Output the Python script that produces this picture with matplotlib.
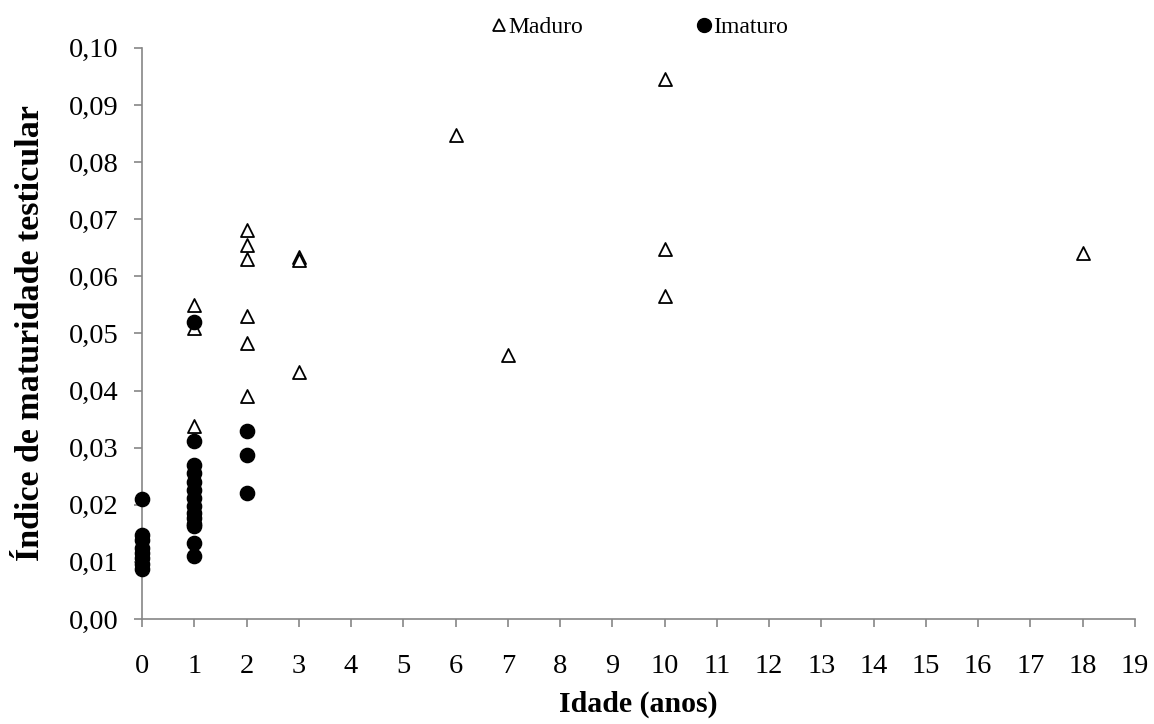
import matplotlib
matplotlib.use("Agg")
import matplotlib.pyplot as plt
from matplotlib.lines import Line2D
from matplotlib.ticker import FuncFormatter, MultipleLocator

plt.rcParams['font.family'] = ['Liberation Serif', 'DejaVu Serif']

# Mature individuals (age in years, testicular maturity index)
maduro_idade = [1, 1, 1, 2, 2, 2, 2, 2, 2, 3, 3, 3, 6, 7, 10, 10, 10, 18]
maduro_indice = [0.0550, 0.0509, 0.0338, 0.0681, 0.0654, 0.0630, 0.0531, 0.0484,
                 0.0391, 0.0634, 0.0628, 0.0433, 0.0847, 0.0462, 0.0946, 0.0647,
                 0.0566, 0.0640]

# Immature individuals
imaturo_idade = [0, 0, 0, 0, 0, 0, 0, 0,
                 1, 1, 1, 1, 1, 1, 1, 1, 1, 1, 1, 1, 1, 1,
                 2, 2, 2]
imaturo_indice = [0.0210, 0.0147, 0.0138, 0.0125, 0.0115, 0.0107, 0.0096, 0.0088,
                  0.0520, 0.0311, 0.0269, 0.0255, 0.0240, 0.0226, 0.0212, 0.0197,
                  0.0186, 0.0176, 0.0167, 0.0162, 0.0133, 0.0111,
                  0.0329, 0.0288, 0.0221]

fig = plt.figure(figsize=(11.54, 7.24), dpi=100)
ax = fig.add_axes([0.1231, 0.145, 0.8604, 0.789])

ax.scatter(maduro_idade, maduro_indice, marker='^', s=88, facecolors='white',
           edgecolors='black', linewidths=1.3, zorder=3, clip_on=False)
ax.scatter(imaturo_idade, imaturo_indice, marker='o', s=105, color='black',
           zorder=4, clip_on=False)

ax.set_xlim(0, 19)
ax.set_ylim(0, 0.10)
ax.xaxis.set_major_locator(MultipleLocator(1))
ax.yaxis.set_major_locator(MultipleLocator(0.01))
ax.yaxis.set_major_formatter(FuncFormatter(lambda v, p: f"{v:.2f}".replace('.', ',')))

for side in ('top', 'right'):
    ax.spines[side].set_visible(False)
for side in ('left', 'bottom'):
    ax.spines[side].set_color('#868686')
    ax.spines[side].set_linewidth(1.2)
    ax.spines[side].set_zorder(1)
ax.tick_params(axis='both', colors='#868686', labelcolor='black', labelsize=20.5,
               length=6, width=1.2, direction='out')
ax.tick_params(axis='x', pad=19)
ax.tick_params(axis='y', pad=11)

ax.set_xlabel('Idade (anos)', fontsize=21.5, fontweight='bold')
ax.xaxis.label.set_va('center')
ax.xaxis.set_label_coords(0.5, -0.15)
ax.set_ylabel('Índice de maturidade testicular', fontsize=24.5, fontweight='bold')
ax.yaxis.label.set_va('center')
ax.yaxis.set_label_coords(-0.1128, 0.5)

handles = [
    Line2D([], [], marker='^', linestyle='none', markersize=8,
           markerfacecolor='white', markeredgecolor='black', markeredgewidth=1.3),
    Line2D([], [], marker='o', linestyle='none', markersize=10, color='black'),
]
fig.legend(handles, ['Maduro', 'Imaturo'], loc='center', ncol=2,
           bbox_to_anchor=(0.5537, 0.962), frameon=False, fontsize=17,
           handletextpad=0.0, columnspacing=4.7, handlelength=0.8)

fig.savefig('out.png', dpi=100)
